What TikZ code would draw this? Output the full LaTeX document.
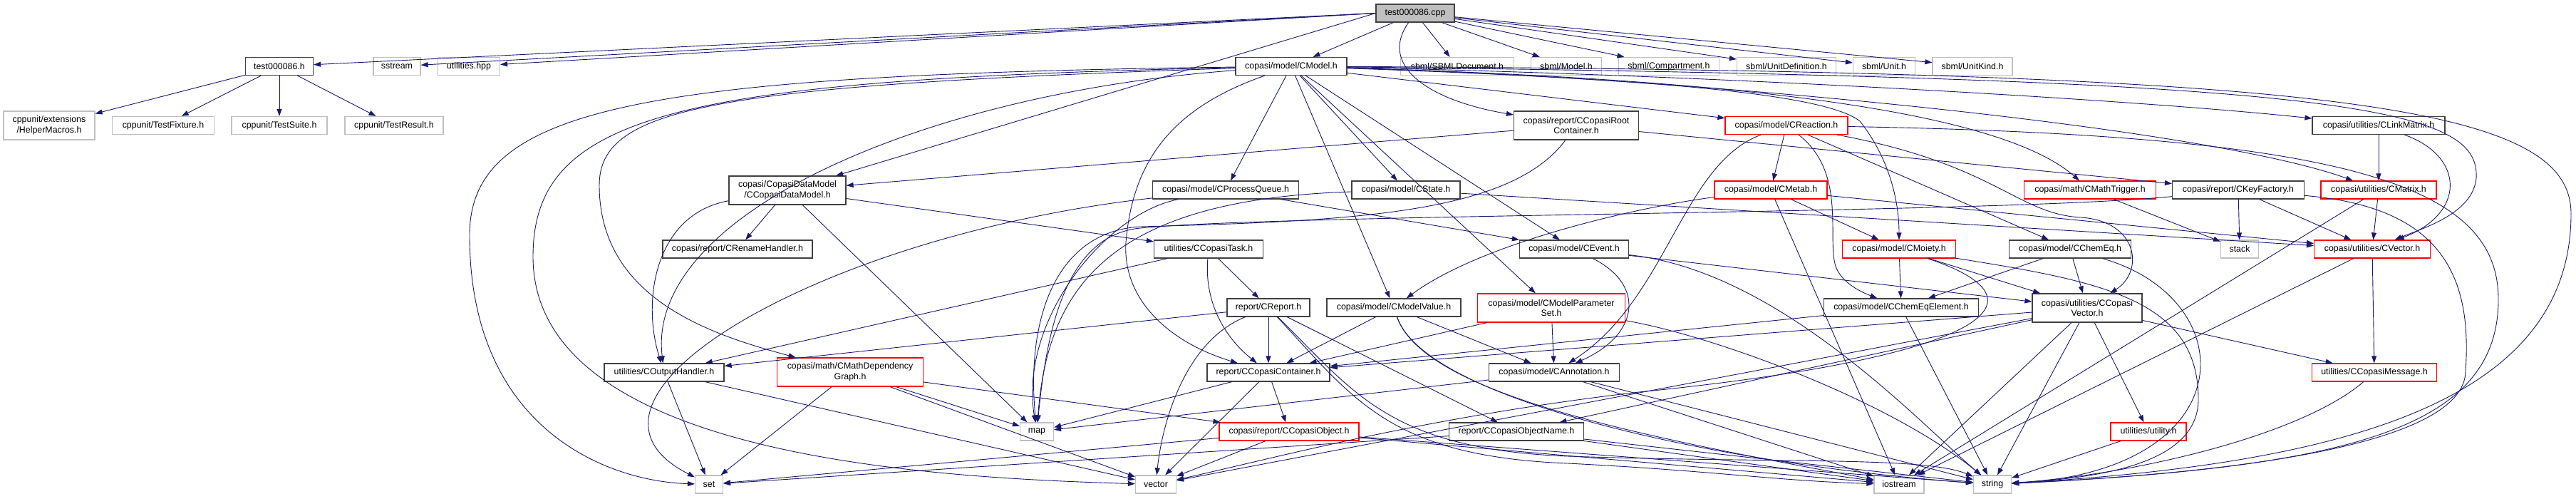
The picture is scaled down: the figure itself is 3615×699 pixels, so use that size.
\documentclass[tikz,border=0pt]{standalone}
\usepackage{fontspec}
\setmainfont{Liberation Sans}
\usetikzlibrary{arrows.meta}
\definecolor{edgeblue}{RGB}{25,25,112}
\definecolor{boxgray}{RGB}{191,191,191}
\definecolor{boxred}{RGB}{255,0,0}
\definecolor{boxblack}{RGB}{64,64,64}
\tikzset{
 nbox/.style={rectangle, inner sep=0pt, minimum height=25pt, align=center, font={\fontsize{12.4}{14.5}\selectfont}, line width=1.2pt},
 blk/.style={nbox, draw=boxblack},
 rd/.style={nbox, draw=boxred},
 gy/.style={nbox, draw=boxgray},
 dbl/.style={minimum height=40pt},
 edge/.style={draw=edgeblue, line width=0.9pt, -{Triangle[length=10pt,width=7pt]}},
}
\begin{document}
\begin{tikzpicture}[x=1pt,y=-1pt]
\useasboundingbox (0,0) rectangle (3615,699);
% row 0
\node[blk,fill=boxgray,minimum width=110pt] (root) at (1986,18.5) {test000086.cpp};
% row 1
\node[blk,minimum width=95pt] (th) at (392,93) {test000086.h};
\node[gy,minimum width=66pt] (sst) at (557,93) {sstream};
\node[gy,minimum width=87pt] (uhpp) at (658,93) {utilities.hpp};
\node[blk,minimum width=156pt] (cmod) at (1812,93) {copasi/model/CModel.h};
\node[gy,minimum width=159pt] (sbd) at (2045,93) {sbml/SBMLDocument.h};
\node[gy,minimum width=99pt] (smod) at (2198,93) {sbml/Model.h};
\node[gy,minimum width=141pt] (scomp) at (2342,93) {sbml/Compartment.h};
\node[gy,minimum width=139pt] (sud) at (2507,93) {sbml/UnitDefinition.h};
\node[gy,minimum width=87pt] (sunit) at (2644,93) {sbml/Unit.h};
\node[gy,minimum width=112pt] (suk) at (2768,93) {sbml/UnitKind.h};
% row 2
\node[gy,dbl,minimum width=128pt] (hm) at (69,176) {cppunit/extensions\\/HelperMacros.h};
\node[gy,minimum width=143pt] (tf) at (229,176) {cppunit/TestFixture.h};
\node[gy,minimum width=134pt] (ts) at (392,176) {cppunit/TestSuite.h};
\node[gy,minimum width=138pt] (tr) at (553,176) {cppunit/TestResult.h};
\node[blk,dbl,minimum width=175pt] (crc) at (2212,176) {copasi/report/CCopasiRoot\\Container.h};
\node[rd,minimum width=172pt] (crea) at (2507,176) {copasi/model/CReaction.h};
\node[blk,minimum width=186pt] (clm) at (3338,176) {copasi/utilities/CLinkMatrix.h};
% row 3
\node[blk,dbl,minimum width=164pt] (cdm) at (1105,267) {copasi/CopasiDataModel\\/CCopasiDataModel.h};
\node[blk,minimum width=205pt] (cpq) at (1720,266.5) {copasi/model/CProcessQueue.h};
\node[blk,minimum width=152pt] (cst) at (1973,266.5) {copasi/model/CState.h};
\node[rd,minimum width=158pt] (cmet) at (2485,266.5) {copasi/model/CMetab.h};
\node[rd,minimum width=185pt] (cmt) at (2933,266.5) {copasi/math/CMathTrigger.h};
\node[blk,minimum width=185pt] (ckf) at (3141,266.5) {copasi/report/CKeyFactory.h};
\node[rd,minimum width=162pt] (cmat) at (3338,266.5) {copasi/utilities/CMatrix.h};
% row 4
\node[blk,minimum width=210pt] (crh) at (1035,349.5) {copasi/report/CRenameHandler.h};
\node[blk,minimum width=153pt] (ctask) at (1696,349.5) {utilities/CCopasiTask.h};
\node[blk,minimum width=153pt] (cev) at (2209,349.5) {copasi/model/CEvent.h};
\node[rd,minimum width=159pt] (cmoi) at (2665,349.5) {copasi/model/CMoiety.h};
\node[blk,minimum width=171pt] (ceq) at (2905,349.5) {copasi/model/CChemEq.h};
\node[gy,minimum width=53pt] (stack) at (3143,349.5) {stack};
\node[rd,minimum width=163pt] (cvec) at (3329,349.5) {copasi/utilities/CVector.h};
% row 5
\node[blk,minimum width=116pt] (crep) at (1780,431.5) {report/CReport.h};
\node[blk,minimum width=188pt] (cmv) at (1956,431.5) {copasi/model/CModelValue.h};
\node[rd,dbl,minimum width=207pt] (cmps) at (2177,432) {copasi/model/CModelParameter\\Set.h};
\node[blk,minimum width=217pt] (ceqe) at (2668,431.5) {copasi/model/CChemEqElement.h};
\node[blk,dbl,minimum width=154pt] (ccv) at (2929,432) {copasi/utilities/CCopasi\\Vector.h};
% row 6
\node[blk,minimum width=168pt] (coh) at (932,522.5) {utilities/COutputHandler.h};
\node[rd,dbl,minimum width=205pt] (cmdg) at (1193,522) {copasi/math/CMathDependency\\Graph.h};
\node[blk,minimum width=172pt] (ccont) at (1780,522.5) {report/CCopasiContainer.h};
\node[blk,minimum width=183pt] (cann) at (2181,522.5) {copasi/model/CAnnotation.h};
\node[rd,minimum width=175pt] (cmsg) at (3332,522.5) {utilities/CCopasiMessage.h};
% row 7
\node[gy,minimum width=47pt] (map) at (1455,605.5) {map};
\node[rd,minimum width=196pt] (cobj) at (1809,605.5) {copasi/report/CCopasiObject.h};
\node[blk,minimum width=189pt] (con) at (2128,605.5) {report/CCopasiObjectName.h};
\node[rd,minimum width=106pt] (util) at (3015,605.5) {utilities/utility.h};
% row 8
\node[gy,minimum width=39pt] (set) at (995,679.5) {set};
\node[gy,minimum width=57pt] (vector) at (1622,679.5) {vector};
\node[gy,minimum width=70pt] (iostream) at (2665,679.5) {iostream};
\node[gy,minimum width=53pt] (string) at (2796,679.5) {string};

% ---- edges ----
\foreach \t in {th,sst,uhpp} {\draw[edge] (root.west) -- (\t);}
\draw[edge] (root.west) -- (cdm);
\foreach \t in {cmod,sbd,smod,scomp,sud,sunit,suk} {\draw[edge] (root) -- (\t);}
\draw[edge] (root) .. controls (1935,90) and (2000,140) .. (crc);
\foreach \t in {hm,tf,ts,tr} {\draw[edge] (th) -- (\t);}
% CCopasiRootContainer
\draw[edge] (crc) -- (cdm);
\draw[edge] (crc) -- (ckf);
\draw[edge] (crc) .. controls (2120,300) and (1900,310) .. (1600,318) .. controls (1480,325) and (1440,450) .. (map);
% CCopasiDataModel
\draw[edge] (cdm) -- (crh);
\draw[edge] (cdm) -- (ctask);
\draw[edge] (cdm) -- (map);
\draw[edge] (cdm) .. controls (920,300) and (900,420) .. (coh);
% CModel
\draw[edge] (cmod) -- (cpq);
\draw[edge] (cmod) -- (cst);
\draw[edge] (cmod) -- (cev);
\draw[edge] (cmod) -- (cmps);
\draw[edge] (cmod) -- (cmv);
\draw[edge] (cmod) -- (crea);
\draw[edge] (cmod) .. controls (2300,110) and (2560,130) .. (2610,170) .. controls (2650,220) and (2665,280) .. (cmoi);
\draw[edge] (cmod) .. controls (2400,110) and (2800,150) .. (cmt);
\draw[edge] (cmod) .. controls (2400,105) and (3000,140) .. (clm);
\draw[edge] (cmod) .. controls (2400,110) and (3100,180) .. (cmat);
\draw[edge] (cmod) .. controls (3300,110) and (3480,150) .. (3475,250) .. controls (3470,300) and (3400,320) .. (cvec);
\draw[edge] (cmod) .. controls (3300,100) and (3608,150) .. (3608,300) .. controls (3608,560) and (3300,650) .. (string);
\draw[edge] (cmod) .. controls (900,105) and (659,150) .. (659,330) .. controls (659,600) and (850,675) .. (set);
\draw[edge] (cmod) .. controls (950,112) and (748,160) .. (748,360) .. controls (748,640) and (1300,670) .. (vector);
\draw[edge] (cmod) .. controls (1000,120) and (841,150) .. (841,260) .. controls (841,420) and (1000,470) .. (cmdg);
\draw[edge] (cmod) .. controls (1300,130) and (905,300) .. (coh);
\draw[edge] (cmod) .. controls (1650,150) and (1590,220) .. (1580,340) .. controls (1575,420) and (1640,480) .. (ccont);
% CProcessQueue
\draw[edge] (cpq) .. controls (1150,330) and (760,560) .. (set);
\draw[edge] (cpq) .. controls (1550,300) and (1430,450) .. (map);
\draw[edge] (cpq) -- (cev);
% CState
\draw[edge] (cst) -- (cvec);
\draw[edge] (cst) .. controls (1560,280) and (1470,400) .. (map);
% CReaction
\draw[edge] (crea) -- (cmet);
\draw[edge] (crea) -- (ceq);
\draw[edge] (crea) .. controls (2590,240) and (2565,330) .. (2575,370) .. controls (2580,390) and (2600,405) .. (ceqe);
\draw[edge] (crea) .. controls (2800,230) and (2830,300) .. (2920,305) .. controls (3000,310) and (3010,380) .. (ccv);
\draw[edge] (crea) .. controls (2360,230) and (2340,420) .. (cann);
\draw[edge] (crea) .. controls (3300,190) and (3506,260) .. (3506,420) .. controls (3506,600) and (3300,655) .. (string);
% CMetab
\draw[edge] (cmet) -- (cmoi);
\draw[edge] (cmet) .. controls (2300,290) and (2080,340) .. (cmv);
\draw[edge] (cmet) -- (iostream);
\draw[edge] (cmet) -- (cvec);
% CMoiety
\draw[edge] (cmoi) -- (ceqe);
\draw[edge] (cmoi) -- (ccv);
\draw[edge] (cmoi) .. controls (2880,420) and (2800,500) .. (2300,550) .. controls (2000,585) and (1800,640) .. (vector);
\draw[edge] (cmoi) .. controls (2950,395) and (3085,420) .. (3085,560) .. controls (3085,650) and (2950,670) .. (string);
% CChemEq
\draw[edge] (ceq) -- (ceqe);
\draw[edge] (ceq) -- (ccv);
\draw[edge] (ceq) .. controls (3150,420) and (3150,660) .. (string);
% CMathTrigger, CKeyFactory, CLinkMatrix, CMatrix, CVector
\draw[edge] (cmt) -- (stack);
\draw[edge] (ckf) -- (stack);
\draw[edge] (ckf) -- (cvec);
\draw[edge] (ckf) .. controls (2800,300) and (1800,300) .. (1600,320) .. controls (1500,330) and (1470,450) .. (map);
\draw[edge] (ckf) .. controls (3420,290) and (3470,380) .. (3460,520) .. controls (3460,630) and (3100,665) .. (string);
\draw[edge] (clm) -- (cmat);
\draw[edge] (clm) .. controls (3460,220) and (3460,300) .. (cvec);
\draw[edge] (cmat) -- (cvec);
\draw[edge] (cmat) -- (iostream);
\draw[edge] (cvec) -- (cmsg);
\draw[edge] (cvec) -- (iostream);
% CCopasiTask, CReport
\draw[edge] (ctask) -- (crep);
\draw[edge] (ctask) -- (coh);
\draw[edge] (ctask) .. controls (1690,420) and (1715,470) .. (ccont);
\draw[edge] (crep) -- (ccont);
\draw[edge] (crep) -- (coh);
\draw[edge] (crep) -- (con);
\draw[edge] (crep) .. controls (1660,480) and (1630,600) .. (vector);
\draw[edge] (crep) .. controls (1900,560) and (1950,640) .. (2200,650) .. controls (2400,660) and (2500,675) .. (iostream);
\draw[edge] (crep) .. controls (1900,550) and (1950,630) .. (2200,640) .. controls (2500,650) and (2700,640) .. (string);
% CEvent
\draw[edge] (cev) .. controls (2310,400) and (2300,470) .. (cann);
\draw[edge] (cev) -- (ccv);
\draw[edge] (cev) .. controls (2500,380) and (2700,600) .. (string);
% CModelValue, CModelParameterSet, CChemEqElement
\draw[edge] (cmv) -- (ccont);
\draw[edge] (cmv) -- (cann);
\draw[edge] (cmv) .. controls (2000,560) and (2400,650) .. (string);
\draw[edge] (cmv) .. controls (2000,560) and (2350,620) .. (iostream);
\draw[edge] (cmps) -- (ccont);
\draw[edge] (cmps) -- (cann);
\draw[edge] (cmps) .. controls (2400,470) and (2650,560) .. (string);
\draw[edge] (ceqe) -- (string);
\draw[edge] (ceqe) -- (ccont);
% CCopasiVector
\foreach \t in {iostream,string,util,cmsg,ccont,con,vector} {\draw[edge] (ccv) -- (\t);}
% lower nodes
\draw[edge] (coh) -- (set);
\draw[edge] (coh) -- (vector);
\foreach \t in {set,map,vector,cobj} {\draw[edge] (cmdg) -- (\t);}
\foreach \t in {map,vector,cobj} {\draw[edge] (ccont) -- (\t);}
\foreach \t in {string,iostream,map} {\draw[edge] (cann) -- (\t);}
\foreach \t in {set,vector,string,iostream} {\draw[edge] (cobj) -- (\t);}
\foreach \t in {string,iostream,set} {\draw[edge] (con) -- (\t);}
\draw[edge] (cmsg) .. controls (3230,610) and (3000,665) .. (string);
\draw[edge] (util) -- (string);
\end{tikzpicture}
\end{document}
